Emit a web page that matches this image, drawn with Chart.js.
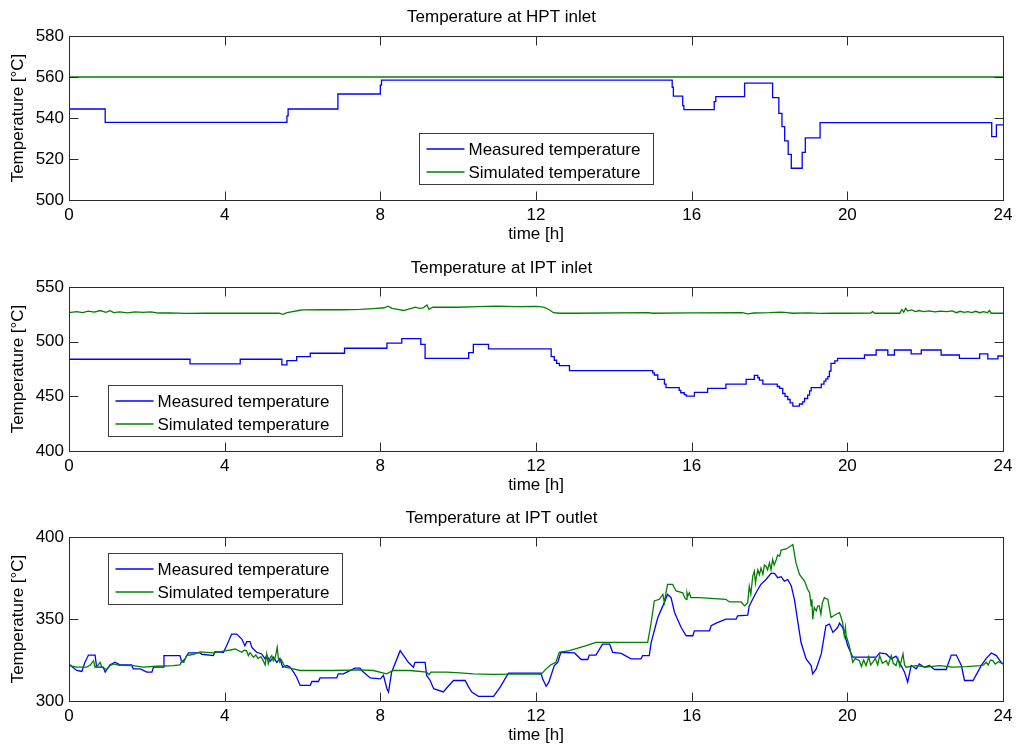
<!DOCTYPE html>
<html>
<head>
<meta charset="utf-8">
<script src="https://cdn.jsdelivr.net/npm/chart.js@4"></script>
<style>
  html, body { margin: 0; padding: 0; background: #fff; overflow: hidden; }
  .panel { position: absolute; left: 0; width: 1020px; height: 250px; }
</style>
</head>
<body>
<div class="panel" style="top:0px"><canvas id="hpt"></canvas></div>
<div class="panel" style="top:251px"><canvas id="iptIn"></canvas></div>
<div class="panel" style="top:501px"><canvas id="iptOut"></canvas></div>
<script>
// x ticks (time in hours)
const timeTicks = [0, 4, 8, 12, 16, 20, 24];
const seriesNames = ['Measured temperature', 'Simulated temperature'];

// HPT inlet: [hour, degC], measured is a step signal (value changes at given hour)
const hptMeasured = [[0,544.4],[0.93,537.9],[5.6,541],[5.63,544.4],[6.91,551.7],[8.0,556],[8.03,558.5],
  [15.5,555],[15.53,550.7],[15.77,546],[15.8,544.1],[16.58,548],[16.62,550.4],[17.36,557],[18.08,549.9],
  [18.24,542.3],[18.32,535.8],[18.39,528.8],[18.48,522.3],[18.56,515.5],[18.84,523.2],[18.92,530.3],
  [19.3,537.7],[23.71,530.9],[23.83,536.6],[24,536.6]];
const hptSimulated = [[0,560],[24,560]];

// IPT inlet
const iptInMeasured = [[0,483.9],[3.11,479.6],[4.4,483.9],[5.47,478.7],[5.6,482.6],[5.85,486.3],[6.2,489.4],
  [7.08,494],[8.17,498.6],[8.55,502.8],[9.04,497.6],[9.15,484.8],[10.27,490],[10.39,497.6],[10.78,493.4],
  [12.39,486.3],[12.47,483],[12.53,480.2],[12.6,478],[12.86,473.5],[15.0,471.5],[15.04,469.5],[15.13,465.5],
  [15.3,461.2],[15.34,457.9],[15.68,455.5],[15.72,453.3],[15.81,451.5],[15.86,450.2],[16.07,453.6],
  [16.41,457.2],[16.88,461.2],[17.4,465.5],[17.61,469.2],[17.7,467],[17.74,464.9],[17.83,461.2],[18.2,459],
  [18.26,457.2],[18.34,452.6],[18.4,450],[18.47,447.1],[18.53,444],[18.6,441],[18.77,443],[18.85,445],
  [18.9,448],[18.98,451.1],[19.03,455],[19.07,457.9],[19.33,461.2],[19.4,464],[19.45,466],[19.5,468],
  [19.54,473],[19.58,480.2],[19.68,482.5],[19.75,484.8],[20.44,487.8],[20.74,492.4],[21.04,487.8],
  [21.21,492.4],[21.64,488.8],[21.9,492.4],[22.41,487.8],[22.88,484.8],[23.4,488.8],[23.61,484.2],
  [23.87,486.9],[24,486.9]];
const iptInSimulated = [[0,526.5],[0.2,527.5],[0.35,526.5],[0.5,528],[0.65,527],[0.8,528.5],[0.95,526.8],
  [1.05,528.3],[1.15,526.5],[1.3,527.2],[1.5,526.4],[1.7,527.2],[1.9,526.8],[2.1,527.3],[2.3,526.2],
  [2.6,526.4],[3.0,525.8],[3.5,526],[4.0,526],[4.5,526],[5.0,526],[5.4,526],[5.5,525],[5.6,526.5],
  [5.75,527.5],[5.9,528.5],[6.0,529],[6.5,529.2],[7.0,529.2],[7.5,529.5],[7.9,530.5],[8.1,531],[8.2,532.5],
  [8.3,530.5],[8.45,529.5],[8.6,528.5],[8.7,529.5],[8.8,530.5],[8.9,531.5],[9.0,530.5],[9.1,531],
  [9.2,533.5],[9.25,529.5],[9.35,531.5],[9.5,531.5],[10,531.5],[10.5,532],[11,532.5],[11.5,532],[12,532.2],
  [12.2,531.5],[12.35,529],[12.45,526.5],[12.6,526],[13,526],[14.9,526.5],[15,526],[16,526.3],[17.3,526.5],
  [17.45,525.5],[17.6,526.2],[18,526.5],[18.3,527],[18.45,526.5],[18.6,526],[19,526.3],[19.3,525.8],
  [19.6,526],[20,526],[20.6,526.2],[20.65,527.5],[20.7,526],[21,526],[21.35,526],[21.4,529.5],[21.45,527],
  [21.5,530.5],[21.55,528],[21.65,529],[21.75,527.5],[21.85,528.5],[21.95,527.5],[22.1,528.2],[22.25,527.2],
  [22.4,528],[22.55,527.5],[22.7,528.2],[22.8,526.5],[22.9,527.8],[23.0,526.8],[23.1,527.5],[23.2,526.6],
  [23.3,527.8],[23.4,526.5],[23.5,527.5],[23.6,526.5],[23.65,528.5],[23.7,526],[24,526]];

// IPT outlet
const iptOutMeasured = [[0,322.6],[0.07,321],[0.2,318.6],[0.33,318],[0.41,323.6],[0.5,328],[0.67,328],
  [0.71,320.6],[0.88,320.6],[0.93,317.6],[1.05,322],[1.18,323.6],[1.31,322],[1.61,322],[1.65,319.6],
  [1.83,319.6],[2.0,317.6],[2.13,317.6],[2.17,320.6],[2.42,320.6],[2.44,327.7],[2.85,327.7],[2.9,323.6],
  [2.98,325.7],[3.07,329.3],[3.37,329.3],[3.41,328.5],[3.71,327.7],[3.75,330],[3.97,329.7],[4.05,333.7],
  [4.18,340.8],[4.31,340.8],[4.44,337.8],[4.52,333.7],[4.57,336.2],[4.65,336.2],[4.7,332.7],[4.82,329.7],
  [4.95,328.7],[5.04,325.7],[5.08,327.7],[5.17,324.2],[5.25,326.7],[5.34,323.6],[5.42,326],[5.49,320.6],
  [5.6,321.6],[5.68,320.6],[5.77,317.6],[5.85,314.5],[5.94,309.5],[6.2,309.5],[6.24,311.9],[6.41,311.9],
  [6.45,314.1],[6.88,314.1],[6.92,316.6],[7.05,316.6],[7.14,317.6],[7.35,320],[7.48,320],[7.52,318.6],
  [7.74,314.1],[8.0,313.5],[8.08,315.6],[8.17,307.5],[8.21,305.5],[8.29,317.6],[8.51,330.7],[8.72,323.6],
  [8.85,320.6],[8.89,323.6],[9.15,323.6],[9.19,315.6],[9.28,312.5],[9.37,307.5],[9.62,305.5],[9.71,308.1],
  [9.88,312.5],[10.18,312.5],[10.27,308.5],[10.35,305.5],[10.52,302.8],[10.91,302.8],[11.08,308.5],
  [11.29,317],[11.59,317],[12.13,317],[12.17,313.5],[12.26,309],[12.33,311.5],[12.47,321.6],[12.56,323.6],
  [12.64,329.7],[12.99,329.3],[13.16,325.3],[13.33,325.3],[13.37,328],[13.54,328],[13.71,334.7],
  [13.89,334.7],[13.97,329.7],[14.19,329],[14.44,325.7],[14.7,325.7],[14.74,327.7],[14.91,327.7],
  [14.96,335.8],[15.13,350.9],[15.26,358],[15.38,365],[15.47,363],[15.56,354],[15.73,344.8],[15.86,339.8],
  [16.03,339.8],[16.07,342.8],[16.46,342.8],[16.5,345.9],[16.63,347.5],[16.88,349.9],[17.14,349.9],
  [17.18,351.9],[17.44,352.3],[17.48,358],[17.61,364],[17.7,368],[17.78,371.1],[17.91,374.1],[18.04,377.8],
  [18.13,377.8],[18.21,375.2],[18.3,375.8],[18.38,373.1],[18.47,374.1],[18.56,370.1],[18.64,362],
  [18.73,347.9],[18.81,335.8],[18.94,325.7],[19.07,321.6],[19.11,316.6],[19.2,319.6],[19.33,328.7],
  [19.45,345.9],[19.54,346.9],[19.63,341.8],[19.75,344.8],[19.8,347.5],[19.88,344.8],[20.01,333.7],
  [20.14,326.7],[20.74,326.7],[20.83,329.3],[21.0,328.7],[21.13,325.7],[21.25,327.3],[21.34,323.6],
  [21.47,317.6],[21.55,311.5],[21.64,321.6],[21.77,319.6],[21.85,322.6],[21.98,320.6],[22.11,321.6],
  [22.24,319.2],[22.54,319.2],[22.67,328],[22.8,328],[22.93,321.6],[23.01,312.5],[23.23,312.5],
  [23.35,317.6],[23.44,321.6],[23.57,326],[23.7,329.3],[23.83,327.7],[23.95,323.6],[24,322.6]];
const iptOutSimulated = [[0,321.6],[0.2,320.6],[0.45,320.6],[0.55,322],[0.63,324.6],[0.67,320.5],[0.75,322],
  [0.8,323.6],[0.84,320.6],[0.97,319.2],[1.05,321.5],[1.14,322.6],[1.3,321.8],[1.65,321.6],[1.91,320.6],
  [2.25,321.2],[2.68,321.6],[2.85,322],[2.9,324.6],[2.95,323.5],[3.02,327.7],[3.2,328.5],[3.37,330],
  [3.71,329.3],[4.05,330.7],[4.27,331.7],[4.44,329.7],[4.5,331],[4.56,330.7],[4.61,327.7],[4.65,329.5],
  [4.74,326.7],[4.8,328],[4.86,326],[4.93,327],[4.99,324.6],[5.04,322],[5.08,328.7],[5.12,322.6],
  [5.17,326.5],[5.21,327.7],[5.25,324.5],[5.29,325.7],[5.32,329],[5.35,332.7],[5.38,326],[5.42,323.6],
  [5.46,325],[5.51,322.6],[5.55,320.6],[5.68,320],[5.94,318.6],[6.79,318.6],[7.48,319],[7.82,318.6],
  [8.16,316.6],[8.33,318.6],[8.76,318.6],[9.19,317.6],[9.25,316],[9.3,317.6],[9.7,317.6],[10.05,317.2],
  [10.39,316.6],[10.9,316.2],[11.91,316.6],[12.13,316.2],[12.26,319.6],[12.39,322.2],[12.51,323.6],
  [12.6,329.7],[12.86,330.7],[13.29,333.7],[13.54,335.8],[14.87,335.8],[14.96,347.9],[15.04,361],[15.17,362],
  [15.26,365],[15.3,360],[15.34,366],[15.38,371.1],[15.51,371.1],[15.6,367.1],[15.77,366],[15.82,363],
  [15.86,362],[15.88,366],[15.9,364],[15.94,366],[15.98,363],[16.2,363],[16.88,362],[16.97,360.4],
  [17.27,360.4],[17.36,358],[17.44,360],[17.48,370],[17.52,365],[17.57,376.2],[17.61,379.2],[17.64,372],
  [17.66,375.2],[17.7,380],[17.74,377],[17.78,381],[17.83,377.2],[17.87,383],[17.91,382.2],[17.95,380],
  [18.0,384.2],[18.04,380],[18.08,386.3],[18.12,383],[18.17,386],[18.21,389],[18.26,388.3],[18.3,392],
  [18.34,392.3],[18.43,392.7],[18.6,395.4],[18.68,384.2],[18.77,377.2],[18.9,373.1],[18.98,368.1],
  [19.03,366],[19.07,358],[19.09,362],[19.11,349.9],[19.15,357],[19.2,354.9],[19.24,358],[19.28,358],
  [19.32,353],[19.36,360],[19.41,363],[19.5,362],[19.58,350.9],[19.71,352.9],[19.8,353.9],[19.88,347.9],
  [19.92,340],[19.95,345],[19.97,339.8],[20.05,333.7],[20.1,328],[20.14,323.6],[20.2,326],[20.31,324.6],
  [20.36,321],[20.42,325],[20.48,321.6],[20.55,327],[20.6,322],[20.65,323.6],[20.72,326],[20.78,322],
  [20.83,327.7],[20.9,323],[21.0,324.6],[21.05,322],[21.13,327.7],[21.18,323],[21.25,321.6],[21.3,326],
  [21.35,321],[21.43,328.7],[21.47,322],[21.51,320.6],[21.77,321.6],[22.03,320.6],[22.37,321.6],
  [22.71,320.6],[23.06,321],[23.4,321.6],[23.5,322],[23.57,323.6],[23.62,322],[23.68,325],[23.74,324.6],
  [23.8,322.5],[23.88,324],[24,322.6]];

const FONT = '"Liberation Sans", Arial, Helvetica, sans-serif';
const AXIS_COLOR = '#2b2b2b';
Chart.defaults.font.family = FONT;
Chart.defaults.font.size = 17;
Chart.defaults.color = '#000';

const toPts = arr => arr.map(p => ({x: p[0], y: p[1]}));

// matlab-like box, inward ticks on all 4 sides, and boxed legend inside the axes
const matlabAxes = {
  id: 'matlabAxes',
  afterDatasetsDraw(chart, args, opts) {
    const {ctx, chartArea: a, scales} = chart;
    const L = Math.floor(a.left) + 0.5, R = Math.floor(a.right) + 0.5;
    const T = Math.floor(a.top) + 0.5, B = Math.floor(a.bottom) + 0.5;
    const tl = 9;
    ctx.save();
    ctx.strokeStyle = AXIS_COLOR;
    ctx.lineWidth = 1;
    ctx.beginPath();
    scales.x.ticks.forEach(t => {
      const x = Math.round(scales.x.getPixelForValue(t.value)) + 0.5;
      ctx.moveTo(x, B); ctx.lineTo(x, B - tl);
      ctx.moveTo(x, T); ctx.lineTo(x, T + tl);
    });
    scales.y.ticks.forEach(t => {
      const y = Math.round(scales.y.getPixelForValue(t.value)) + 0.5;
      ctx.moveTo(L, y); ctx.lineTo(L + tl, y);
      ctx.moveTo(R, y); ctx.lineTo(R - tl, y);
    });
    ctx.stroke();
    ctx.strokeRect(L, T, R - L, B - T);

    // legend
    const lx = Math.round(a.left + opts.x) + 0.5, ly = Math.round(a.top + opts.y) + 0.5;
    const w = 234, h = 51;
    ctx.fillStyle = '#fff';
    ctx.fillRect(lx, ly, w, h);
    ctx.strokeStyle = '#3a3a3a';
    ctx.strokeRect(lx, ly, w, h);
    ctx.font = '17px ' + FONT;
    ctx.textBaseline = 'middle';
    ctx.textAlign = 'left';
    chart.data.datasets.forEach((ds, i) => {
      const ry = Math.round(ly + 15 + i * 23);
      ctx.strokeStyle = ds.borderColor;
      ctx.lineWidth = 1.3;
      ctx.beginPath();
      ctx.moveTo(lx + 7, ry); ctx.lineTo(lx + 45, ry);
      ctx.stroke();
      ctx.fillStyle = '#000';
      ctx.fillText(ds.label, lx + 49, ry + 1);
    });
    ctx.restore();
  }
};

function buildChart(id, title, yMin, yMax, yStep, measured, simulated, stepped, legendPos) {
  return new Chart(document.getElementById(id), {
    type: 'line',
    data: {
      datasets: [
        {label: seriesNames[0], data: toPts(measured), borderColor: 'rgb(0,0,255)',
         borderWidth: 1.3, pointRadius: 0, stepped: stepped, order: 1},
        {label: seriesNames[1], data: toPts(simulated), borderColor: 'rgb(0,128,0)',
         borderWidth: 1.3, pointRadius: 0, order: 0}
      ]
    },
    options: {
      responsive: true,
      maintainAspectRatio: false,
      animation: false,
      layout: {padding: {left: 0, right: 17, top: 0, bottom: 0}},
      plugins: {
        legend: {display: false},
        tooltip: {enabled: false},
        title: {display: true, text: title, color: '#000',
                font: {size: 17, weight: 'normal'}, padding: {top: 7, bottom: 8.6}},
        matlabAxes: legendPos
      },
      scales: {
        x: {
          type: 'linear', min: 0, max: 24,
          afterBuildTicks: s => { s.ticks = timeTicks.map(v => ({value: v})); },
          ticks: {padding: 5, maxRotation: 0, color: '#000'},
          grid: {display: false, drawTicks: false},
          border: {display: false},
          title: {display: true, text: 'time [h]', color: '#000', padding: {top: 0, bottom: 5}},
          afterFit: s => { s.height = 50; }
        },
        y: {
          min: yMin, max: yMax,
          ticks: {stepSize: yStep, padding: 5, color: '#000'},
          grid: {display: false, drawTicks: false},
          border: {display: false},
          title: {display: true, text: 'Temperature [°C]', color: '#000', padding: {top: 8, bottom: 0}},
          afterFit: s => { s.width = 69; }
        }
      }
    },
    plugins: [matlabAxes]
  });
}

buildChart('hpt', 'Temperature at HPT inlet', 500, 580, 20, hptMeasured, hptSimulated, true, {x: 350, y: 97});
buildChart('iptIn', 'Temperature at IPT inlet', 400, 550, 50, iptInMeasured, iptInSimulated, true, {x: 39, y: 98});
buildChart('iptOut', 'Temperature at IPT outlet', 300, 400, 50, iptOutMeasured, iptOutSimulated, false, {x: 39, y: 16});
</script>
</body>
</html>
